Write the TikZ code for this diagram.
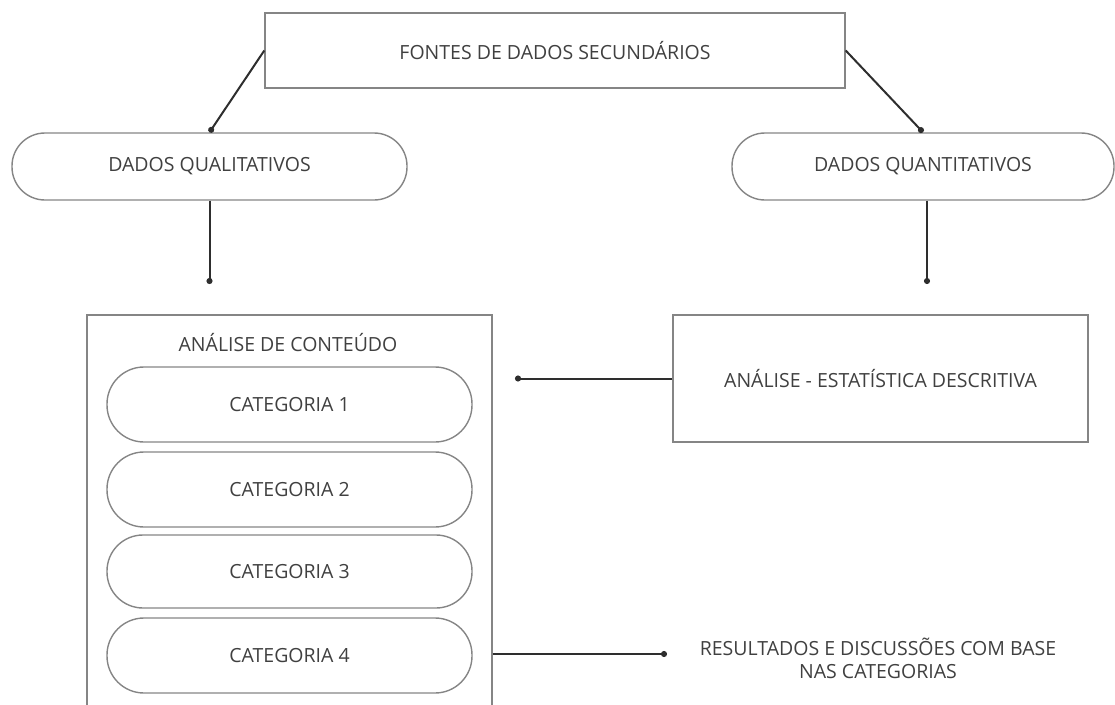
\documentclass[tikz,border=0pt]{standalone}
\usepackage{fontspec}
\setmainfont{Open Sans}
\usetikzlibrary{arrows.meta}
\definecolor{boxgray}{HTML}{858585}
\definecolor{lineclr}{HTML}{2E2E2E}
\definecolor{txt}{HTML}{404040}
\newcommand{\lbl}{\fontsize{19.5}{23}\selectfont}
\tikzset{
  box/.style={draw=boxgray, line width=1.4pt, rectangle, text=txt, font=\lbl, inner sep=0pt, align=center},
  pill/.style={box, rounded corners=33pt},
  conn/.style={draw=lineclr, line width=2pt, -{Circle[length=6pt]}},
  plain/.style={text=txt, font=\lbl, inner sep=0pt, align=center}
}
\begin{document}
\begin{tikzpicture}[x=1pt,y=-1pt]
\useasboundingbox (0,0) rectangle (1115,704);
\node[box, minimum width=580pt, minimum height=75pt] (top) at (555,50.5) {FONTES DE DADOS SECUNDÁRIOS};
\node[pill, minimum width=395pt, minimum height=67pt] (qual) at (209.5,166.5) {DADOS QUALITATIVOS};
\node[pill, minimum width=382pt, minimum height=67pt] (quant) at (923,166.5) {DADOS QUANTITATIVOS};
\node[box, minimum width=405pt, minimum height=395pt] (cont) at (289.5,512.5) {};
\node[plain] (title) at (288,343) {ANÁLISE DE CONTEÚDO};
\node[pill, rounded corners=37pt, minimum width=365pt, minimum height=75pt] (cat1) at (289.5,404.5) {CATEGORIA 1};
\node[pill, rounded corners=37pt, minimum width=365pt, minimum height=75pt] (cat2) at (289.5,489.5) {CATEGORIA 2};
\node[pill, rounded corners=36pt, minimum width=365pt, minimum height=73pt] (cat3) at (289.5,571.5) {CATEGORIA 3};
\node[pill, rounded corners=37pt, minimum width=365pt, minimum height=75pt] (cat4) at (289.5,655.5) {CATEGORIA 4};
\node[box, minimum width=415pt, minimum height=127pt] (estat) at (880.5,378.5) {ANÁLISE - ESTATÍSTICA DESCRITIVA};
\node[plain] (res) at (878,658) {RESULTADOS E DISCUSSÕES COM BASE\\NAS CATEGORIAS};
\coordinate (qd) at (209.5,284);
\coordinate (nd) at (927,284);
\coordinate (ed) at (515,378.5);
\coordinate (rd) at (667,654);
\draw[conn] (top.west) -- (qual.north);
\draw[conn] (top.east) -- (quant.north);
\draw[conn] (qual.south -| qd) -- (qd);
\draw[conn] (quant.south -| nd) -- (nd);
\draw[conn] (estat.west) -- (ed);
\draw[conn] (rd -| cont.east) -- (rd);
\end{tikzpicture}
\end{document}
